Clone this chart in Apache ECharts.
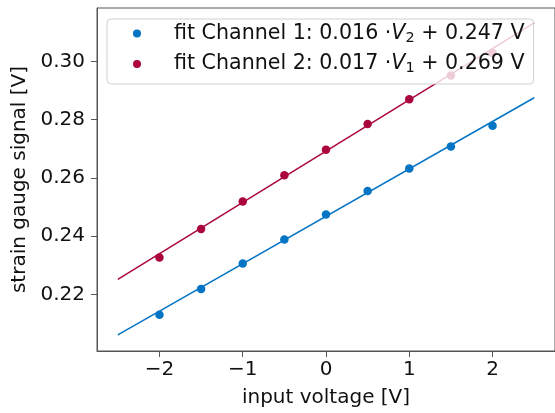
<!DOCTYPE html>
<html>
<head>
<meta charset="utf-8">
<script src="https://cdn.jsdelivr.net/npm/echarts@6/dist/echarts.min.js"></script>
<style>
  html, body { margin: 0; padding: 0; background: #fff; }
  #chart { width: 555px; height: 413px; }
</style>
</head>
<body>
<div id="chart"></div>
<script>
// input voltage steps
const voltages = [-2, -1.5, -1, -0.5, 0, 0.5, 1, 1.5, 2];
// measured strain gauge signal
const channel1 = [0.2130, 0.2219, 0.2306, 0.2389, 0.2474, 0.2555, 0.2632, 0.2708, 0.2779];
const channel2 = [0.2327, 0.2425, 0.2519, 0.2609, 0.2697, 0.2785, 0.2870, 0.2951, 0.3029];
// fit line end points
const fit1 = [[-2.5, 0.2061], [2.5, 0.2875]];
const fit2 = [[-2.5, 0.2252], [2.5, 0.3132]];
const xTicks = [-2, -1, 0, 1, 2];
const yTicks = [0.22, 0.24, 0.26, 0.28, 0.30];

const BLUE = '#0474c4';
const RED = '#ab0540';
const FONT = 'DejaVu Sans';

const chart = echarts.init(document.getElementById('chart'));

const pairs = ys => voltages.map((v, i) => [v, ys[i]]);

const legendText = {
  'fit Channel 1': '{t|fit Channel 1: 0.016 ·}{v|V}{s|2}{t| + 0.247 V}',
  'fit Channel 2': '{t|fit Channel 2: 0.017 ·}{v|V}{s|1}{t| + 0.269 V}',
};

chart.setOption({
  animation: false,
  grid: { left: 97, top: 8, right: -11, bottom: 59, show: true, borderColor: '#555', borderWidth: 1 },
  legend: {
    orient: 'vertical',
    left: 107,
    top: 19,
    data: ['fit Channel 1', 'fit Channel 2'],
    icon: 'circle',
    itemWidth: 8,
    itemHeight: 8,
    itemGap: 8,
    padding: [4, 9, 8, 26],
    backgroundColor: 'rgba(255,255,255,0.8)',
    borderColor: '#d0d0d0',
    borderWidth: 1,
    borderRadius: 4,
    formatter: name => legendText[name],
    textStyle: {
      fontFamily: FONT,
      fontSize: 20.6,
      color: '#111',
      padding: [0, 0, 0, 28],
      rich: {
        t: { fontFamily: FONT, fontSize: 20.6, color: '#111', lineHeight: 24 },
        v: { fontFamily: FONT, fontSize: 20.6, fontStyle: 'italic', color: '#111', lineHeight: 24 },
        s: { fontFamily: FONT, fontSize: 14.5, color: '#111', lineHeight: 14, verticalAlign: 'bottom' },
      },
    },
  },
  xAxis: {
    type: 'value',
    min: -2.75,
    max: 2.75,
    name: 'input voltage [V]',
    nameLocation: 'middle',
    nameGap: 37,
    nameTextStyle: { fontFamily: FONT, fontSize: 20, color: '#111' },
    axisLine: { onZero: false, lineStyle: { color: '#555', width: 1 } },
    axisTick: { customValues: xTicks, length: 6, lineStyle: { color: '#555' } },
    axisLabel: {
      customValues: xTicks,
      margin: 9,
      fontFamily: FONT,
      fontSize: 20,
      color: '#111',
      formatter: v => String(v).replace('-', '\u2212'),
    },
    splitLine: { show: false },
  },
  yAxis: {
    type: 'value',
    min: 0.2006,
    max: 0.3183,
    name: 'strain gauge signal [V]',
    nameLocation: 'middle',
    nameGap: 56,
    nameTextStyle: { fontFamily: FONT, fontSize: 20, color: '#111' },
    axisLine: { show: true, onZero: false, lineStyle: { color: '#555', width: 1 } },
    axisTick: { show: true, customValues: yTicks, length: 6, lineStyle: { color: '#555' } },
    axisLabel: {
      customValues: yTicks,
      margin: 12,
      fontFamily: FONT,
      fontSize: 20,
      color: '#111',
      formatter: v => v.toFixed(2),
    },
    splitLine: { show: false },
  },
  series: [
    {
      name: 'fit Channel 1',
      type: 'scatter',
      data: pairs(channel1),
      symbolSize: 8.5,
      itemStyle: { color: BLUE, opacity: 1 },
      z: 3,
    },
    {
      name: 'fit Channel 2',
      type: 'scatter',
      data: pairs(channel2),
      symbolSize: 8.5,
      itemStyle: { color: RED, opacity: 1 },
      z: 3,
    },
    {
      name: 'line1',
      type: 'line',
      data: fit1,
      showSymbol: false,
      lineStyle: { color: BLUE, width: 1.5 },
      z: 2,
    },
    {
      name: 'line2',
      type: 'line',
      data: fit2,
      showSymbol: false,
      lineStyle: { color: RED, width: 1.5 },
      z: 2,
    },
  ],
});
</script>
</body>
</html>
